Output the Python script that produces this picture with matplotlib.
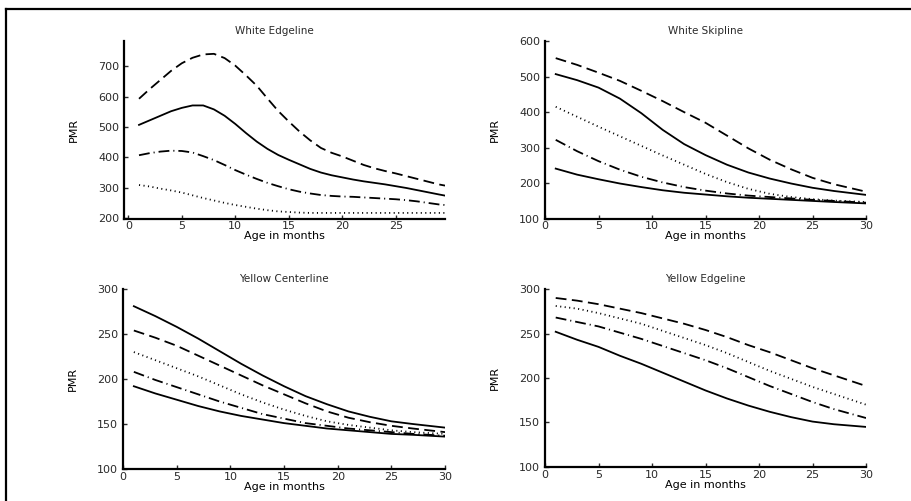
import numpy as np
import matplotlib.pyplot as plt
from matplotlib.lines import Line2D

plt.rcParams['font.family'] = ['DejaVu Sans']
plt.rcParams['font.size'] = 8
plt.rcParams['text.color'] = '#2a2a2a'
plt.rcParams['xtick.color'] = '#2a2a2a'
plt.rcParams['ytick.color'] = '#2a2a2a'

# ---- White Edgeline ----
we_x = [1, 2, 3, 4, 5, 6, 7, 8, 9, 10, 11, 12, 13, 14, 15, 16, 17, 18, 19, 20,
        21, 22, 23, 24, 25, 26, 27, 28, 29, 29.6]
we_dash = [593, 625, 655, 685, 710, 728, 739, 741, 727, 702, 670, 636, 594, 553, 518,
           485, 456, 431, 415, 403, 389, 375, 364, 355, 347, 338, 329, 320, 311, 307]
we_solid = [507, 522, 537, 552, 563, 571, 571, 558, 537, 510, 480, 452, 428, 408, 392,
            377, 362, 350, 341, 334, 327, 321, 316, 311, 305, 299, 292, 285, 278, 274]
we_dashdot = [407, 414, 419, 422, 421, 416, 404, 391, 375, 358, 343, 329, 316, 305, 295,
              287, 281, 276, 273, 271, 270, 268, 266, 264, 262, 259, 255, 250, 245, 243]
we_dot = [309, 304, 297, 291, 284, 275, 266, 258, 250, 243, 237, 231, 226, 222, 220,
          218, 217, 217, 217, 217, 217, 217, 217, 217, 217, 217, 217, 217, 217, 217]

# ---- White Skipline ----
ws_x = [1, 3, 5, 7, 9, 11, 13, 15, 17, 19, 21, 23, 25, 27, 30]
ws_dash = [552, 533, 511, 488, 460, 431, 400, 370, 334, 298, 266, 239, 215, 197, 176]
ws_solid1 = [507, 490, 469, 438, 397, 350, 310, 279, 252, 230, 213, 199, 187, 178, 167]
ws_dot = [415, 387, 359, 332, 305, 278, 252, 226, 203, 184, 170, 161, 155, 151, 147]
ws_dashdot = [322, 290, 262, 238, 218, 202, 189, 179, 171, 165, 161, 157, 153, 150, 145]
ws_solid2 = [241, 224, 211, 199, 189, 180, 173, 168, 163, 159, 156, 153, 150, 147, 143]

# ---- Yellow Centerline ----
yc_x = [1, 3, 5, 7, 9, 11, 13, 15, 17, 19, 21, 23, 25, 27, 30]
yc_solid1 = [281, 270, 258, 245, 231, 217, 204, 192, 181, 172, 164, 158, 153, 150, 146]
yc_dash = [254, 246, 237, 226, 215, 204, 193, 183, 173, 164, 157, 152, 148, 145, 141]
yc_dot = [230, 221, 212, 203, 193, 183, 174, 166, 159, 153, 149, 146, 143, 141, 139]
yc_dashdot = [208, 199, 191, 183, 175, 168, 161, 156, 151, 148, 145, 143, 141, 139, 137]
yc_solid2 = [192, 184, 177, 170, 164, 159, 155, 151, 148, 145, 143, 141, 139, 138, 136]

# ---- Yellow Edgeline ----
ye_x = [1, 3, 5, 7, 9, 11, 13, 15, 17, 19, 21, 23, 25, 27, 30]
ye_dash = [290, 287, 283, 278, 273, 267, 261, 254, 246, 237, 229, 220, 211, 203, 191]
ye_dot = [281, 278, 273, 267, 261, 253, 245, 237, 228, 218, 208, 199, 190, 182, 170]
ye_dashdot = [268, 263, 258, 251, 244, 236, 228, 220, 211, 201, 191, 182, 173, 165, 155]
ye_solid = [252, 243, 235, 225, 216, 206, 196, 186, 177, 169, 162, 156, 151, 148, 145]

DASH = (0, (6, 3))
DOT = (0, (0.6, 1.9))
DASHDOT = (0, (6, 2.2, 0.6, 2.2))
lw = 1.3


def style(ax, title, ylim, yticks, xlim, xticks, title_x=0.5):
    ax.set_xlim(*xlim)
    ax.set_ylim(*ylim)
    ax.set_xticks(xticks)
    ax.set_yticks(yticks)
    ax.set_title(title, fontsize=7.5, pad=5, x=title_x)
    ax.set_xlabel('Age in months', labelpad=0)
    ax.set_ylabel('PMR')
    ax.yaxis.set_label_coords(-0.14, 0.5)
    for s in ['top', 'right']:
        ax.spines[s].set_visible(False)
    for s in ['left', 'bottom']:
        ax.spines[s].set_linewidth(1.6)
    ax.tick_params(direction='in', length=3, width=1, labelsize=8)
    ax.tick_params(axis='x', pad=2)
    ax.tick_params(axis='y', pad=3.5)


fig = plt.figure(figsize=(9.12, 5.01), dpi=100)

ax1 = fig.add_axes([0.136, 0.5635, 0.352, 0.3545])
ax1.plot(we_x, we_dash, color='k', lw=lw, ls=DASH)
ax1.plot(we_x, we_solid, color='k', lw=lw)
ax1.plot(we_x, we_dashdot, color='k', lw=lw, ls=DASHDOT)
ax1.plot(we_x, we_dot, color='k', lw=lw, ls=DOT)
style(ax1, 'White Edgeline', (198, 783), [200, 300, 400, 500, 600, 700],
      (-0.4, 29.6), [0, 5, 10, 15, 20, 25], title_x=0.467)

ax2 = fig.add_axes([0.5976, 0.5635, 0.352, 0.3545])
ax2.plot(ws_x, ws_dash, color='k', lw=lw, ls=DASH)
ax2.plot(ws_x, ws_solid1, color='k', lw=lw)
ax2.plot(ws_x, ws_dot, color='k', lw=lw, ls=DOT)
ax2.plot(ws_x, ws_dashdot, color='k', lw=lw, ls=DASHDOT)
ax2.plot(ws_x, ws_solid2, color='k', lw=lw)
style(ax2, 'White Skipline', (100, 600), [100, 200, 300, 400, 500, 600],
      (0, 30), [0, 5, 10, 15, 20, 25, 30])

ax3 = fig.add_axes([0.135, 0.0639, 0.353, 0.359])
ax3.plot(yc_x, yc_solid1, color='k', lw=lw)
ax3.plot(yc_x, yc_dash, color='k', lw=lw, ls=DASH)
ax3.plot(yc_x, yc_dot, color='k', lw=lw, ls=DOT)
ax3.plot(yc_x, yc_dashdot, color='k', lw=lw, ls=DASHDOT)
ax3.plot(yc_x, yc_solid2, color='k', lw=lw)
style(ax3, 'Yellow Centerline', (100, 300), [100, 150, 200, 250, 300],
      (0, 30), [0, 5, 10, 15, 20, 25, 30])

ax4 = fig.add_axes([0.5976, 0.068, 0.352, 0.355])
ax4.plot(ye_x, ye_dash, color='k', lw=lw, ls=DASH)
ax4.plot(ye_x, ye_dot, color='k', lw=lw, ls=DOT)
ax4.plot(ye_x, ye_dashdot, color='k', lw=lw, ls=DASHDOT)
ax4.plot(ye_x, ye_solid, color='k', lw=lw)
style(ax4, 'Yellow Edgeline', (100, 300), [100, 150, 200, 250, 300],
      (0, 30), [0, 5, 10, 15, 20, 25, 30])

# frame lines at top and left of the picture
fig.add_artist(Line2D([0.0071, 1], [0.983, 0.983], color='k', lw=1.6,
                      transform=fig.transFigure))
fig.add_artist(Line2D([0.0071, 0.0071], [0, 0.983], color='k', lw=1.6,
                      transform=fig.transFigure))

fig.savefig('out.png', dpi=100)
